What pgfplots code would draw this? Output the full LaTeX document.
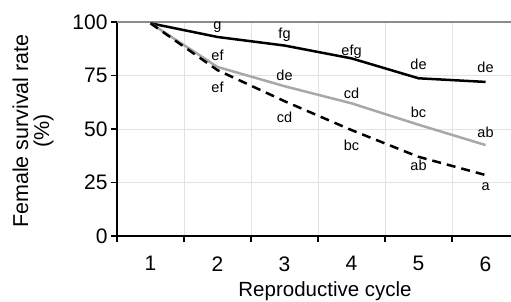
\documentclass[border=0pt]{standalone}
\usepackage{fontspec}
\setmainfont{Liberation Sans}
\usepackage{pgfplots}
\pgfplotsset{compat=1.18}
\definecolor{gridgray}{RGB}{226,226,226}
\definecolor{linegray}{RGB}{168,168,168}
\definecolor{topgray}{RGB}{140,140,140}
\begin{document}
\begin{tikzpicture}
\begin{axis}[
  name=ax,
  scale only axis, width=394pt, height=214pt,
  xmin=0.5, xmax=6.38, ymin=0, ymax=100,
  axis lines*=left,
  axis line style={-, black, line width=1.6pt},
  xtick={1,2,3,4,5,6},
  minor xtick={0.5,1.5,2.5,3.5,4.5,5.5},
  ytick={0,25,50,75,100},
  tick align=outside,
  major tick length=6pt, minor tick length=6pt,
  major x tick style={draw=none},
  tick style={black, line width=1.4pt},
  xminorgrids=true, ymajorgrids=true, xmajorgrids=false,
  grid style={gridgray, line width=0.8pt},
  minor grid style={gridgray, line width=0.8pt},
  /pgf/number format/assume math mode=true,
  ticklabel style={font=\fontsize{21}{23}\selectfont},
  xticklabel style={yshift=-11pt},
  xlabel={Reproductive cycle},
  ylabel={Female survival rate\\(\%)},
  xlabel style={font=\fontsize{20.5}{22}\selectfont, at={([yshift=-60.7pt]axis description cs:0.528,0)}, anchor=base},
  ylabel style={font=\fontsize{21.5}{21}\selectfont, align=center, at={([xshift=-84pt,yshift=-2pt]axis description cs:0,0.5)}, anchor=center},
  clip=false,
]
\draw[topgray, line width=1.2pt] (rel axis cs:0,1) -- (rel axis cs:1,1);
\addplot[black, line width=2.5pt] coordinates {(1,99.4) (2,93) (3,89) (4,83) (5,73.7) (6,72)};
\addplot[linegray, line width=2.5pt] coordinates {(1,99.4) (2,79) (3,70) (4,62) (5,52) (6,42.5)};
\addplot[black, line width=2.5pt, dash pattern=on 9pt off 6pt] coordinates {(1,99.4) (2,77.5) (3,63) (4,49.5) (5,37) (6,28.5)};
\addplot[draw=none, mark=none, nodes near coords, point meta=explicit symbolic,
  nodes near coords style={anchor=center, font=\fontsize{14.5}{16}\selectfont, black}]
  table[meta=label] {
x y label
2 97.7 g
3 94 fg
4 86 efg
5 80 de
6 79 de
2 84.6 ef
3 75.2 de
4 66.8 cd
5 58 bc
6 48.6 ab
2 69.6 ef
3 55.6 cd
4 42.5 bc
5 33.2 ab
6 22.9 a
};
\end{axis}
\pgfresetboundingbox
\path[use as bounding box] ([xshift=-117pt,yshift=-65pt]ax.south west) rectangle ([yshift=22pt]ax.north east);
\end{tikzpicture}
\end{document}
